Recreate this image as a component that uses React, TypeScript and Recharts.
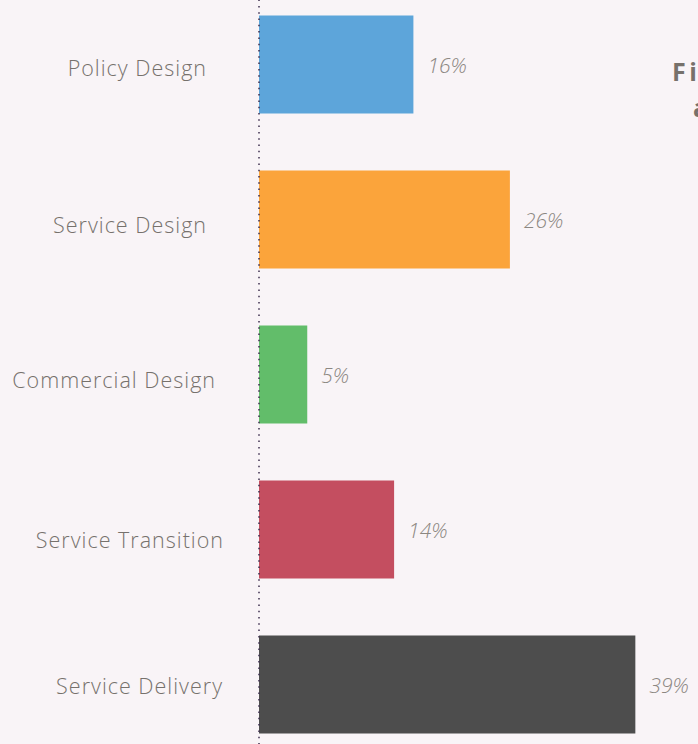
import React from "react";
import { BarChart, Bar, XAxis, YAxis, Cell, LabelList } from "recharts";

const categories = ["Policy Design", "Service Design", "Commercial Design", "Service Transition", "Service Delivery"];
const shares = [16, 26, 5, 14, 39];
const barColors = ["#5da5da", "#fba43b", "#62bd6a", "#c44e60", "#4d4d4d"];
const tickNudge = [-8, -8, 1, 9, 8];
const tickNudgeY = [3, 5, 5, 10, 1];

const data = categories.map((c, i) => ({ name: c, value: shares[i] }));

const FONT = "'Open Sans', 'Noto Sans', sans-serif";

const CategoryTick = (props: any) => {
  const { x, y, payload, index } = props;
  return (
    <text
      x={x + (tickNudge[index] ?? 0)}
      y={y + (tickNudgeY[index] ?? 0)}
      textAnchor="end"
      dominantBaseline="central"
      fill="#76716c"
      fontSize={21.5}
      fontWeight={300}
      letterSpacing={1}
      fontFamily={FONT}
    >
      {payload.value}
    </text>
  );
};

const PctLabel = (props: any) => {
  const { x, y, width, height, value } = props;
  return (
    <text
      x={x + width + 14}
      y={y + height / 2}
      dominantBaseline="central"
      fill="#8c8782"
      fontSize={21}
      fontStyle="italic"
      fontWeight={300}
      fontFamily={FONT}
    >
      {value}%
    </text>
  );
};

export default function App() {
  return (
    <div style={{ position: "absolute", left: 0, top: 0, width: 698, height: 744, overflow: "hidden", background: "#f9f4f7" }}>
      <div style={{ position: "absolute", left: 0, top: -13.5 }}>
        <BarChart
          layout="vertical"
          width={698}
          height={775}
          data={data}
          margin={{ top: 0, right: 53, bottom: 0, left: 0 }}
          barCategoryGap={28.5}
        >
          <XAxis type="number" domain={[0, 40]} hide />
          <YAxis
            type="category"
            dataKey="name"
            width={259}
            tickLine={false}
            axisLine={{ stroke: "#3e2f4f", strokeWidth: 1.5, strokeDasharray: "1.5 4.8" }}
            tick={<CategoryTick />}
            tickMargin={38}
          />
          <Bar dataKey="value" isAnimationActive={false}>
            {data.map((d, i) => (
              <Cell key={d.name} fill={barColors[i]} />
            ))}
            <LabelList dataKey="value" content={<PctLabel />} />
          </Bar>
        </BarChart>
      </div>
      <svg style={{ position: "absolute", left: 0, top: 0 }} width={698} height={744}>
        <text x={672} y={81} fill="#77716b" fontSize={25} fontWeight="bold" letterSpacing={3.5} fontFamily={FONT}>
          Figure 3: Share of
        </text>
        <text x={693} y={117} fill="#77716b" fontSize={25} fontWeight="bold" letterSpacing={3.5} fontFamily={FONT}>
          activity
        </text>
      </svg>
    </div>
  );
}
